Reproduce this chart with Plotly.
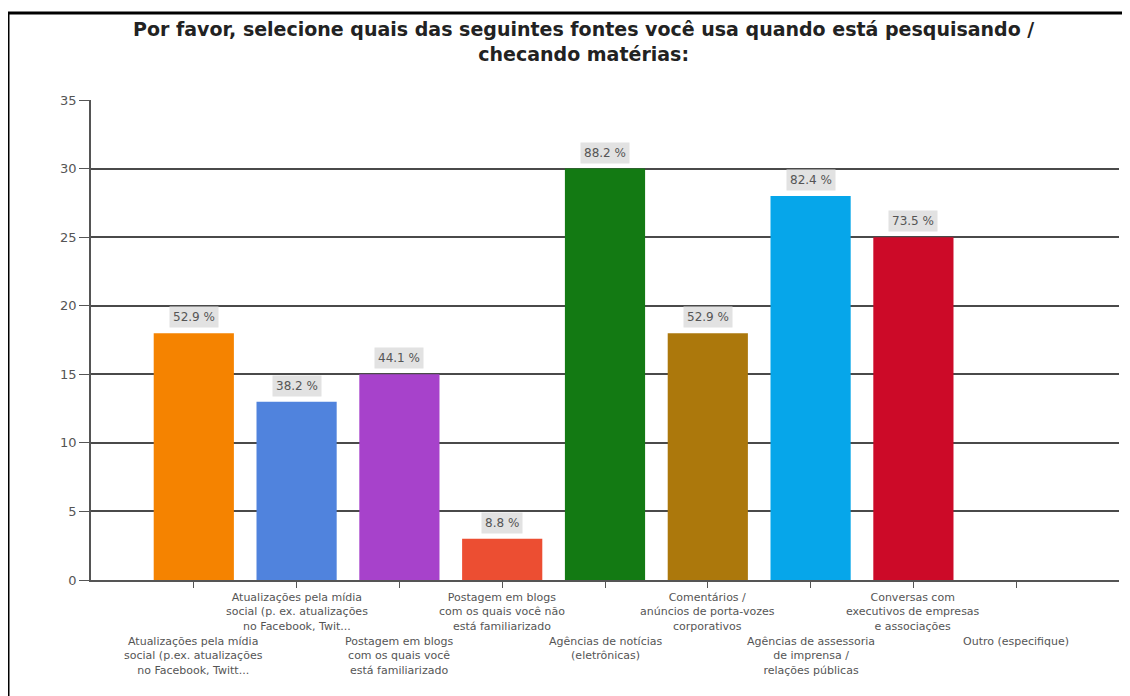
import plotly.graph_objects as go

categories = [
    "Atualizações pela mídia social (p.ex. atualizações no Facebook, Twitt...",
    "Atualizações pela mídia social (p. ex. atualizações no Facebook, Twit...",
    "Postagem em blogs com os quais você está familiarizado",
    "Postagem em blogs com os quais você não está familiarizado",
    "Agências de notícias (eletrônicas)",
    "Comentários / anúncios de porta-vozes corporativos",
    "Agências de assessoria de imprensa / relações públicas",
    "Conversas com executivos de empresas e associações",
    "Outro (especifique)",
]
tick_labels = [
    "Atualizações pela mídia<br>social (p.ex. atualizações<br>no Facebook, Twitt...",
    "Atualizações pela mídia<br>social (p. ex. atualizações<br>no Facebook, Twit...",
    "Postagem em blogs<br>com os quais você<br>está familiarizado",
    "Postagem em blogs<br>com os quais você não<br>está familiarizado",
    "Agências de notícias<br>(eletrônicas)",
    "Comentários /<br>anúncios de porta-vozes<br>corporativos",
    "Agências de assessoria<br>de imprensa /<br>relações públicas",
    "Conversas com<br>executivos de empresas<br>e associações",
    "Outro (especifique)",
]
counts = [18, 13, 15, 3, 30, 18, 28, 25, 0]
percent_labels = ["52.9 %", "38.2 %", "44.1 %", "8.8 %", "88.2 %", "52.9 %", "82.4 %", "73.5 %", ""]
colors = ["#F58300", "#5083DD", "#A742CB", "#EC4E32", "#137A13",
          "#AC780C", "#06A6EA", "#CC0A28", "#888888"]
y_ticks = [0, 5, 10, 15, 20, 25, 30, 35]
title_text = "Por favor, selecione quais das seguintes fontes você usa quando está pesquisando /<br>checando matérias:"

# page pixel helpers (plot area: x 91..1119, y 100..580 on the page)
def px_x(p):
    return (p - 91) / 1028

def px_y(p):
    return (580 - p) / 480

fig = go.Figure()
fig.add_trace(go.Bar(
    x=categories, y=counts,
    marker=dict(color=colors, line=dict(width=0)),
    hoverinfo="skip",
))

annotations = []
for cat, val, lab in zip(categories, counts, percent_labels):
    if lab:
        annotations.append(dict(
            x=cat, y=val, xref="x", yref="y", text=lab, showarrow=False,
            yanchor="bottom", yshift=5, bgcolor="#e2e2e2", borderpad=3,
            font=dict(family="DejaVu Sans", size=12, color="#555555"),
        ))

for i, (cat, lab) in enumerate(zip(categories, tick_labels)):
    upper = (i % 2 == 1)
    annotations.append(dict(
        x=cat, xref="x", yref="paper", text=lab, showarrow=False,
        y=px_y(589) if upper else px_y(633),
        yanchor="top", align="center",
        font=dict(family="DejaVu Sans", size=11, color="#555555"),
    ))

annotations.append(dict(
    text=title_text, xref="paper", yref="paper",
    x=px_x(583), y=px_y(41), xanchor="center", yanchor="middle",
    showarrow=False, align="center",
    font=dict(family="DejaVu Sans", size=19, color="#222222", weight="bold"),
))

fig.update_layout(
    width=1130, height=696,
    margin=dict(l=83, r=19, t=92, b=124),
    paper_bgcolor="white", plot_bgcolor="white",
    bargap=0.22,
    showlegend=False,
    xaxis=dict(
        type="category", range=[-1, len(categories)],
        showticklabels=False, ticks="outside", ticklen=6, tickcolor="#555555",
        showline=True, linecolor="#555555", linewidth=2,
        showgrid=False, zeroline=False,
    ),
    yaxis=dict(
        range=[0, 35], tickvals=y_ticks, ticks="outside", ticklen=10,
        tickcolor="#555555", showline=True, linecolor="#555555", linewidth=1.5,
        showgrid=True, gridcolor="#4a4a4a", gridwidth=1.5, zeroline=False,
        tickfont=dict(family="DejaVu Sans", size=13, color="#555555"),
    ),
    annotations=annotations,
    shapes=[
        dict(type="line", xref="paper", yref="paper",
             x0=px_x(8), x1=px_x(1140), y0=px_y(13), y1=px_y(13),
             line=dict(color="black", width=3)),
        dict(type="line", xref="paper", yref="paper",
             x0=px_x(8), x1=px_x(8), y0=px_y(13), y1=px_y(720),
             line=dict(color="black", width=3)),
    ],
)

fig.write_html("out.html")
